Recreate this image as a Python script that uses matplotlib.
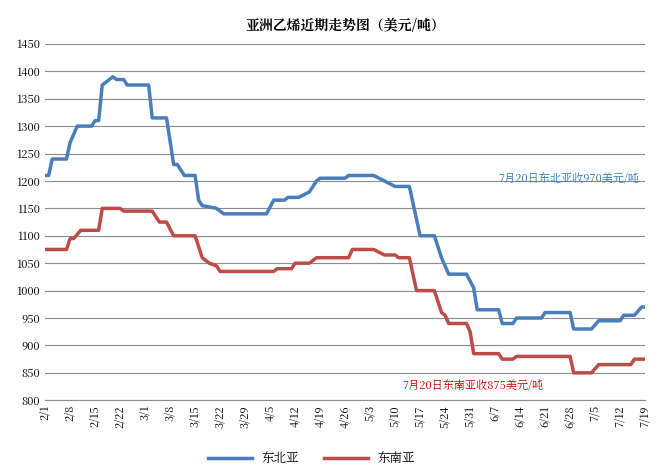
import numpy as np
import pandas as pd
import matplotlib
matplotlib.use("Agg")
import matplotlib.pyplot as plt
from matplotlib import font_manager

# pick an installed CJK font
cjk = [f.name for f in font_manager.fontManager.ttflist if "CJK" in f.name]
cjk_name = "Noto Sans CJK SC" if "Noto Sans CJK SC" in cjk else (cjk[0] if cjk else "DejaVu Sans")
plt.rcParams["font.family"] = [cjk_name, "DejaVu Sans"]
plt.rcParams["axes.unicode_minus"] = False

# day offsets from 2/1 and prices (USD/t)
ne_days = [0, 1, 2, 6, 7, 9, 13, 14, 15, 16, 19, 20, 22, 23, 29, 30, 34, 36, 37, 39, 42, 43, 44, 48, 50,
           62, 64, 67, 68, 71, 74, 76, 77, 84, 85, 92, 95, 98, 102, 104, 105, 109, 111, 112, 113, 118,
           120, 121, 127, 128, 131, 132, 139, 140, 147, 148, 153, 155, 161, 162, 165, 167, 168]
ne_vals = [1210, 1210, 1240, 1240, 1270, 1300, 1300, 1310, 1310, 1375, 1390, 1385, 1385, 1375, 1375, 1315,
           1315, 1230, 1230, 1210, 1210, 1165, 1155, 1150, 1140, 1140, 1165, 1165, 1170, 1170, 1180, 1200,
           1205, 1205, 1210, 1210, 1200, 1190, 1190, 1130, 1100, 1100, 1060, 1045, 1030, 1030, 1005, 965,
           965, 940, 940, 950, 950, 960, 960, 930, 930, 945, 945, 955, 955, 970, 970]
se_days = [0, 6, 7, 8, 10, 15, 16, 21, 22, 30, 32, 34, 36, 42, 44, 46, 48, 49, 64, 65, 69, 70, 74, 76, 85, 86,
           92, 95, 98, 99, 102, 104, 109, 111, 112, 113, 118, 119, 120, 127, 128, 131, 132, 147, 148, 153,
           155, 164, 165, 168]
se_vals = [1075, 1075, 1095, 1095, 1110, 1110, 1150, 1150, 1145, 1145, 1125, 1125, 1100, 1100, 1060, 1050,
           1045, 1035, 1035, 1040, 1040, 1050, 1050, 1060, 1060, 1075, 1075, 1065, 1065, 1060, 1060, 1000,
           1000, 960, 955, 940, 940, 925, 885, 885, 875, 875, 880, 880, 850, 850, 865, 865, 875, 875]

start = pd.Timestamp("2017-02-01")
ne_dates = start + pd.to_timedelta(ne_days, unit="D")
se_dates = start + pd.to_timedelta(se_days, unit="D")
tick_dates = pd.date_range(start, periods=25, freq="7D")
tick_labels = [f"{d.month}/{d.day}" for d in tick_dates]

fig = plt.figure(figsize=(6.63, 4.72), dpi=100)
ax = fig.add_axes([0.068, 0.152, 0.905, 0.755])

ax.plot(ne_dates, ne_vals, color="#4a7ebb", lw=2.5, label="东北亚")
ax.plot(se_dates, se_vals, color="#be4b48", lw=2.5, label="东南亚")

ax.set_ylim(800, 1450)
ax.set_yticks(range(800, 1451, 50))
ax.set_xlim(tick_dates[0], tick_dates[-1])
ax.set_xticks(tick_dates)
ax.set_xticklabels(tick_labels, rotation=90, fontsize=8)
ax.tick_params(axis="y", labelsize=8, length=0)
ax.tick_params(axis="x", length=0)
ax.grid(axis="y", color="#8c8c8c", lw=0.8)
for s in ["top", "right", "left"]:
    ax.spines[s].set_visible(False)
ax.spines["bottom"].set_color("#8c8c8c")

ax.set_title("亚洲乙烯近期走势图（美元/吨）", fontsize=10, fontweight="bold", pad=10)
ax.text(0.99, 0.61, "7月20日东北亚收970美元/吨", transform=ax.transAxes,
        color="#2e75b6", fontsize=8, ha="right")
ax.text(0.83, 0.03, "7月20日东南亚收875美元/吨", transform=ax.transAxes,
        color="#c00000", fontsize=8, ha="right")

fig.legend(loc="lower center", ncol=2, frameon=False, fontsize=9,
           bbox_to_anchor=(0.47, -0.01), handlelength=3.5)

fig.savefig("out.png", dpi=100)
